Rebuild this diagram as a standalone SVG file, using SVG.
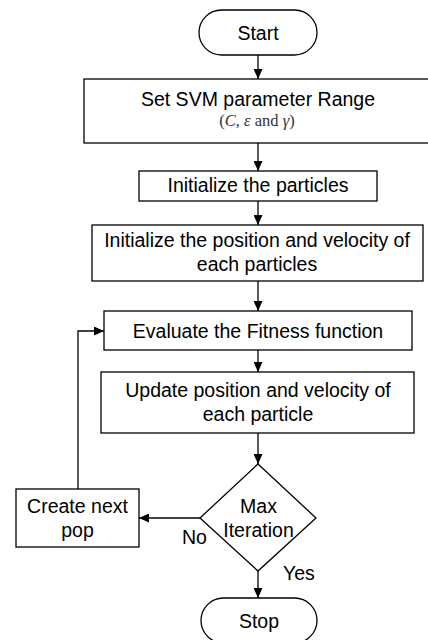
<svg xmlns="http://www.w3.org/2000/svg" width="428" height="640" viewBox="0 0 428 640">
<style>
.box{fill:#fff;stroke:#000;stroke-width:1.3}
.t{font-family:"Liberation Sans",Arial,sans-serif;font-size:19.5px;fill:#000;text-anchor:middle}
.tl{font-family:"Liberation Sans",Arial,sans-serif;font-size:19.5px;fill:#000}
.m{font-family:"Liberation Serif","Times New Roman",serif;font-size:16.5px;fill:#333;text-anchor:middle}
.c{fill:none;stroke:#000;stroke-width:1.3}
</style>
<defs>
<marker id="ah" markerUnits="userSpaceOnUse" markerWidth="10" markerHeight="9" refX="10" refY="4.5" orient="auto">
<path d="M0,0 L10,4.5 L0,9 z" fill="#000"/>
</marker>
</defs>
<rect width="428" height="640" fill="#fff"/>
<g id="connectors">
<line class="c" x1="258" y1="55" x2="258" y2="79" marker-end="url(#ah)"/>
<line class="c" x1="258" y1="143" x2="258" y2="171" marker-end="url(#ah)"/>
<line class="c" x1="258" y1="201" x2="258" y2="225" marker-end="url(#ah)"/>
<line class="c" x1="258" y1="281" x2="258" y2="311" marker-end="url(#ah)"/>
<line class="c" x1="258" y1="350" x2="258" y2="372" marker-end="url(#ah)"/>
<line class="c" x1="258" y1="433" x2="258" y2="464" marker-end="url(#ah)"/>
<line class="c" x1="200" y1="518" x2="139" y2="518" marker-end="url(#ah)"/>
<line class="c" x1="258" y1="571" x2="258" y2="598" marker-end="url(#ah)"/>
<polyline class="c" points="78,489 78,331 104,331" marker-end="url(#ah)"/>
<text class="tl" x="182" y="544">No</text>
<text class="tl" x="283" y="580">Yes</text>
</g>
<g id="start">
<rect class="box" x="199" y="10" width="118" height="45" rx="22.5"/>
<text class="t" x="258" y="39.5">Start</text>
</g>
<g id="set-svm">
<rect class="box" x="84" y="79" width="347" height="64"/>
<text class="t" x="258" y="106">Set SVM parameter Range</text>
<text class="m" x="257" y="125.5">(<tspan font-style="italic">C</tspan>, <tspan font-style="italic">ε</tspan> and <tspan font-style="italic">γ</tspan>)</text>
</g>
<g id="init-particles">
<rect class="box" x="139" y="171" width="238" height="30"/>
<text class="t" x="258" y="191.5">Initialize the particles</text>
</g>
<g id="init-position">
<rect class="box" x="92" y="225" width="331" height="56"/>
<text class="t" x="257" y="246.5">Initialize the position and velocity of</text>
<text class="t" x="257" y="271">each particles</text>
</g>
<g id="evaluate">
<rect class="box" x="104" y="311" width="308" height="39"/>
<text class="t" x="258" y="338">Evaluate the Fitness function</text>
</g>
<g id="update">
<rect class="box" x="101" y="372" width="313" height="61"/>
<text class="t" x="258" y="396.5">Update position and velocity of</text>
<text class="t" x="258" y="421">each particle</text>
</g>
<g id="max-iteration">
<polygon class="box" points="258,464 316,518 258,571 200,518"/>
<text class="t" x="258.5" y="512.5">Max</text>
<text class="t" x="258.5" y="536.5">Iteration</text>
</g>
<g id="create-next-pop">
<rect class="box" x="16" y="489" width="123" height="58"/>
<text class="t" x="77.5" y="512.5">Create next</text>
<text class="t" x="77.5" y="536.5">pop</text>
</g>
<g id="stop">
<rect class="box" x="201" y="598" width="116" height="45" rx="22.5"/>
<text class="t" x="259" y="628">Stop</text>
</g>
</svg>
